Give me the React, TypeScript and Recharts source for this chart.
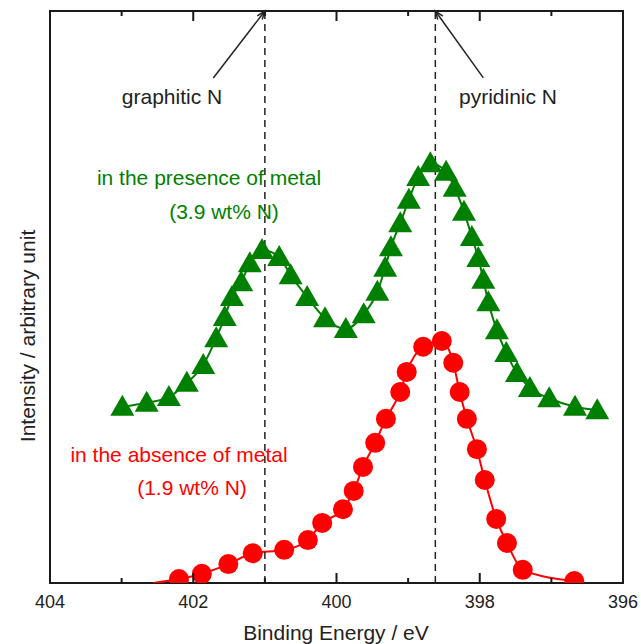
import {
  LineChart,
  Line,
  XAxis,
  YAxis,
  ReferenceLine,
  Customized,
} from "recharts";

const FONT = '"Liberation Sans", Arial, Helvetica, sans-serif';
const INK = "#222";
const GREEN = "#008000";
const RED = "#ff0000";

const energyTicks = [404, 403, 402, 401, 400, 399, 398, 397, 396];
const labelledTicks = [404, 402, 400, 398, 396];

// with metal (triangles)
const greenEnergy = [
  402.99, 402.65, 402.34, 402.09, 401.86, 401.68, 401.56, 401.46, 401.33, 401.21,
  401.04, 400.8, 400.64, 400.41, 400.16, 399.87, 399.62, 399.43, 399.32, 399.24,
  399.11, 398.99, 398.86, 398.69, 398.47, 398.35, 398.22, 398.11, 398.02, 397.95,
  397.88, 397.76, 397.63, 397.48, 397.3, 397.03, 396.67, 396.36,
];
const greenIntensity = [
  30.8, 31.5, 32.5, 35.0, 38.1, 42.8, 46.5, 50.0, 52.6, 55.9,
  58.2, 57.0, 53.8, 50.0, 46.3, 44.4, 47.0, 50.9, 55.1, 58.7,
  62.9, 67.0, 71.0, 73.4, 71.9, 69.1, 64.9, 60.5, 56.8, 53.0,
  49.1, 44.2, 40.2, 36.7, 34.1, 32.3, 30.8, 30.2,
];

// without metal (circles); first point is only where the curve starts
const redEnergy = [
  402.56, 402.2, 401.88, 401.51, 401.17, 400.73, 400.4, 400.2, 399.91, 399.76,
  399.63, 399.46, 399.31, 399.11, 399.02, 398.79, 398.53, 398.37, 398.28, 398.18,
  398.04, 397.93, 397.77, 397.62, 397.4, 396.68,
];
const redIntensity = [
  0, 0.7, 1.6, 3.3, 5.2, 5.8, 7.5, 10.5, 12.9, 16.1,
  20.3, 24.5, 28.7, 33.4, 36.9, 41.3, 42.3, 38.5, 33.4, 28.7,
  23.4, 18.0, 11.2, 7.0, 2.3, 0.35,
];

const peakLines = [401.0, 398.62];

const arrows = [
  { from: { x: 401.72, y: 88.3 }, to: { x: 401.0, y: 100 } },
  { from: { x: 397.95, y: 88.3 }, to: { x: 398.62, y: 100 } },
];

const X_MIN = 396;
const X_MAX = 404;
const Y_MIN = 0;
const Y_MAX = 100;

// plot box (chart margins)
const PLOT = { left: 50, top: 11, width: 573, height: 572 };

const greenData = greenEnergy.map((x, i) => ({ x, y: greenIntensity[i] }));
const redData = redEnergy.map((x, i) => ({ x, y: redIntensity[i] }));

// bottom label + inward ticks on both bottom and top edges
function EnergyTick({ x, y, payload }: any) {
  const major = labelledTicks.includes(payload.value);
  const len = major ? 10 : 5;
  const top = y - PLOT.height;
  return (
    <g>
      <path d={`M${x},${y}V${y - len}M${x},${top}V${top + len}`} stroke="#1a1a1a" strokeWidth={2} fill="none" />
      {major && (
        <text x={x} y={y + 25} textAnchor="middle" fontSize={18} fill={INK} fontFamily={FONT}>
          {payload.value}
        </text>
      )}
    </g>
  );
}

function Triangle(props: any) {
  const { cx, cy, index } = props;
  return (
    <path
      key={`tri-${index}`}
      d={`M${cx},${cy - 12} L${cx + 12},${cy + 9} L${cx - 12},${cy + 9} Z`}
      fill={GREEN}
    />
  );
}

function Circle(props: any) {
  const { cx, cy, index } = props;
  if (index === 0) return <g key={`c-${index}`} />;
  return <circle key={`c-${index}`} cx={cx} cy={cy} r={10} fill={RED} />;
}

function Arrow(props: any) {
  const { x1, y1, x2, y2 } = props;
  const a = Math.atan2(y2 - y1, x2 - x1);
  const len = 9;
  const w = 0.35;
  const p1 = `${x2 - len * Math.cos(a - w)},${y2 - len * Math.sin(a - w)}`;
  const p2 = `${x2 - len * Math.cos(a + w)},${y2 - len * Math.sin(a + w)}`;
  return (
    <g>
      <line x1={x1} y1={y1} x2={x2} y2={y2} stroke={INK} strokeWidth={1.5} />
      <path d={`M${p1} L${x2},${y2} L${p2}`} fill="none" stroke={INK} strokeWidth={1.5} />
    </g>
  );
}

function Annotations() {
  return (
    <g fontFamily={FONT}>
      <rect
        x={PLOT.left}
        y={PLOT.top}
        width={PLOT.width}
        height={PLOT.height}
        fill="none"
        stroke="#1a1a1a"
        strokeWidth={2}
      />
      <text x={172} y={104} textAnchor="middle" fontSize={21} fill={INK}>graphitic N</text>
      <text x={508} y={104} textAnchor="middle" fontSize={21} fill={INK}>pyridinic N</text>
      <text x={209} y={185} textAnchor="middle" fontSize={21} fill={GREEN}>in the presence of metal</text>
      <text x={224} y={219} textAnchor="middle" fontSize={21} fill={GREEN}>(3.9 wt% N)</text>
      <text x={179} y={462} textAnchor="middle" fontSize={21} fill={RED}>in the absence of metal</text>
      <text x={192} y={495} textAnchor="middle" fontSize={21} fill={RED}>(1.9 wt% N)</text>
      <text
        x={27}
        y={336}
        transform="rotate(-90 27 336)"
        textAnchor="middle"
        dominantBaseline="central"
        fontSize={21}
        fill={INK}
      >
        Intensity / arbitrary unit
      </text>
      <text x={336} y={640} textAnchor="middle" fontSize={21} fill={INK}>
        Binding Energy / eV
      </text>
    </g>
  );
}

export default function App() {
  return (
    <div style={{ position: "absolute", left: 0, top: 0, background: "#fff" }}>
      <LineChart
        width={641}
        height={644}
        margin={{ top: PLOT.top, right: 641 - PLOT.left - PLOT.width, left: PLOT.left, bottom: 0 }}
      >
        <XAxis
          type="number"
          dataKey="x"
          domain={[X_MIN, X_MAX]}
          reversed
          ticks={energyTicks}
          interval={0}
          allowDataOverflow
          height={644 - PLOT.top - PLOT.height}
          tickSize={0}
          tickMargin={0}
          axisLine={false}
          tickLine={false}
          tick={<EnergyTick />}
        />
        <YAxis type="number" domain={[Y_MIN, Y_MAX]} allowDataOverflow hide />
        <Line
          data={greenData}
          dataKey="y"
          type="monotone"
          stroke={GREEN}
          strokeWidth={2}
          dot={Triangle}
          activeDot={false}
          isAnimationActive={false}
        />
        <Line
          data={redData}
          dataKey="y"
          type="monotone"
          stroke={RED}
          strokeWidth={2}
          dot={Circle}
          activeDot={false}
          isAnimationActive={false}
        />
        {peakLines.map((e) => (
          <ReferenceLine key={`peak-${e}`} x={e} stroke={INK} strokeWidth={1.5} strokeDasharray="7 5" />
        ))}
        {arrows.map((a, i) => (
          <ReferenceLine key={`arrow-${i}`} segment={[a.from, a.to]} ifOverflow="visible" shape={Arrow} />
        ))}
        <Customized component={Annotations} />
      </LineChart>
    </div>
  );
}
